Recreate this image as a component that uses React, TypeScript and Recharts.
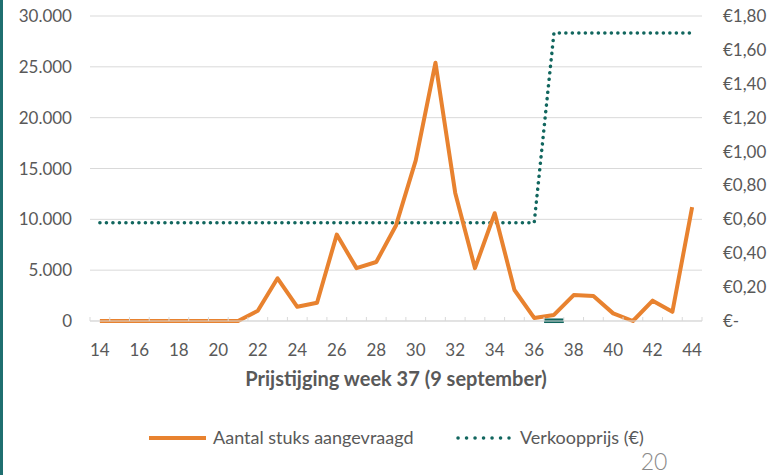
import React from 'react';
import {
  ComposedChart,
  Line,
  XAxis,
  YAxis,
  CartesianGrid,
  ReferenceArea
} from 'recharts';

// weeks on the x axis
const WEEKS = [14, 15, 16, 17, 18, 19, 20, 21, 22, 23, 24, 25, 26, 27, 28, 29, 30, 31, 32, 33, 34, 35, 36, 37, 38, 39, 40, 41, 42, 43, 44];

// Aantal stuks aangevraagd (left axis)
const DEMAND = [0, 0, 0, 0, 0, 0, 0, 0, 1000, 4200, 1400, 1800, 8500, 5200, 5800, 9400, 15800, 25400, 12600, 5200, 10600, 3050, 300, 600, 2550, 2450, 750, 0, 2000, 900, 11200];

// Verkoopprijs in euro (right axis)
const PRICE = [0.58, 0.58, 0.58, 0.58, 0.58, 0.58, 0.58, 0.58, 0.58, 0.58, 0.58, 0.58, 0.58, 0.58, 0.58, 0.58, 0.58, 0.58, 0.58, 0.58, 0.58, 0.58, 0.58, 1.7, 1.7, 1.7, 1.7, 1.7, 1.7, 1.7, 1.7];

const LEFT_TICKS = [0, 5000, 10000, 15000, 20000, 25000, 30000];
const RIGHT_TICKS = [0, 0.2, 0.4, 0.6, 0.8, 1.0, 1.2, 1.4, 1.6, 1.8];
const PRICE_WEEK = 37;

const ORANGE = '#E8822F';
const TEAL = '#11665E';
const TEXT = '#595959';
const FONT = 'Lato, "Open Sans", sans-serif';

const W = 775;
const LEFT_W = 90;
const RIGHT_W = 73;
const BAND = (W - LEFT_W - RIGHT_W) / WEEKS.length;
const X_TICK_MARGIN = 23;

const data = WEEKS.map((week, i) => ({ week, demand: DEMAND[i], price: PRICE[i] }));

const fmtLeft = (v: number) => (v === 0 ? '0' : v.toLocaleString('de-DE'));
const fmtRight = (v: number) => (v === 0 ? '€-' : '€' + v.toFixed(2).replace('.', ','));

// Excel style: tick marks between categories, label on every other week
const WeekTick = (props: any) => {
  const { x, y, payload, index } = props;
  const axisY = y - X_TICK_MARGIN;
  const left = x - BAND / 2;
  return (
    <g>
      <line x1={left} x2={left} y1={axisY} y2={axisY - 4} stroke="#d9d9d9" />
      {index === WEEKS.length - 1 && (
        <line x1={x + BAND / 2} x2={x + BAND / 2} y1={axisY} y2={axisY - 4} stroke="#d9d9d9" />
      )}
      {index % 2 === 0 && (
        <text x={x} y={y} dy="0.71em" textAnchor="middle" fill={TEXT} fontSize={17} fontFamily={FONT}>
          {payload.value}
        </text>
      )}
    </g>
  );
};

export default function App() {
  return (
    <div style={{ position: 'absolute', left: 0, top: 0, width: W, height: 475, background: '#fff', overflow: 'hidden' }}>
      <div style={{ position: 'absolute', left: 0, top: 0, width: 3, height: 475, background: '#1f6f70' }} />
      <ComposedChart
        width={W}
        height={400}
        data={data}
        margin={{ top: 16, right: 0, left: 0, bottom: 0 }}
        style={{ fontFamily: FONT }}
      >
        <CartesianGrid vertical={false} stroke="#d9d9d9" yAxisId="left" />
        <XAxis
          dataKey="week"
          type="category"
          scale="band"
          interval={0}
          height={79}
          tickSize={0}
          tickMargin={X_TICK_MARGIN}
          tickLine={false}
          axisLine={{ stroke: '#d9d9d9' }}
          tick={<WeekTick />}
          label={{
            value: 'Prijstijging week 37 (9 september)',
            position: 'insideTop',
            offset: 51,
            fill: TEXT,
            fontSize: 20,
            fontWeight: 'bold',
            fontFamily: FONT
          }}
        />
        <YAxis
          yAxisId="left"
          width={LEFT_W}
          domain={[0, 30000]}
          ticks={LEFT_TICKS}
          tickFormatter={fmtLeft}
          tickSize={0}
          tickMargin={18}
          axisLine={false}
          tickLine={false}
          tick={{ fill: TEXT, fontSize: 17, fontFamily: FONT }}
        />
        <YAxis
          yAxisId="right"
          orientation="right"
          width={RIGHT_W}
          domain={[0, 1.8]}
          ticks={RIGHT_TICKS}
          tickFormatter={fmtRight}
          tickSize={0}
          tickMargin={21}
          axisLine={false}
          tickLine={false}
          tick={{ fill: TEXT, fontSize: 17, fontFamily: FONT, textAnchor: 'start' }}
        />
        <Line
          yAxisId="right"
          dataKey="price"
          type="linear"
          stroke={TEAL}
          strokeWidth={3.5}
          strokeDasharray="0.1 6.4"
          strokeLinecap="round"
          dot={false}
          isAnimationActive={false}
        />
        <Line
          yAxisId="left"
          dataKey="demand"
          type="linear"
          stroke={ORANGE}
          strokeWidth={4}
          strokeLinejoin="round"
          dot={false}
          isAnimationActive={false}
        />
        <ReferenceArea
          yAxisId="left"
          x1={PRICE_WEEK}
          x2={PRICE_WEEK}
          y1={-200}
          y2={250}
          fill={TEAL}
          fillOpacity={1}
          stroke="none"
          ifOverflow="visible"
        />
      </ComposedChart>
      <svg width={W} height={75} style={{ position: 'absolute', left: 0, top: 400 }}>
        <line x1={149} x2={206} y1={38} y2={38} stroke={ORANGE} strokeWidth={4} />
        <text x={213} y={38} dy="0.35em" fill={TEXT} fontSize={18} fontFamily={FONT}>
          Aantal stuks aangevraagd
        </text>
        <line x1={458} x2={509} y1={38} y2={38} stroke={TEAL} strokeWidth={3.5} strokeDasharray="0.1 8.4" strokeLinecap="round" />
        <text x={520} y={38} dy="0.35em" fill={TEXT} fontSize={18} fontFamily={FONT}>
          Verkoopprijs (€)
        </text>
        <text x={654} y={62} dy="0.35em" textAnchor="middle" fill="#8a8a8a" fontSize={23} fontFamily={FONT} fontWeight={300}>
          20
        </text>
      </svg>
    </div>
  );
}
